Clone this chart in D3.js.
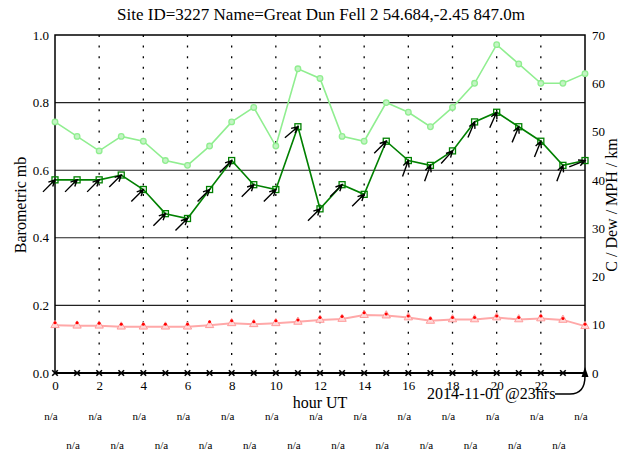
<!DOCTYPE html>
<html>
<head>
<meta charset="utf-8">
<script src="https://cdn.jsdelivr.net/npm/d3@7/dist/d3.min.js"></script>
<style>
  html, body { margin: 0; padding: 0; background: #fff; }
  svg { display: block; }
  svg text { font-family: "Liberation Serif", "Times New Roman", Times, serif; }
</style>
</head>
<body>
<svg id="chart" width="625" height="454"></svg>
<script>
// Hourly observations, hour 0 to 24
const hours = [0,1,2,3,4,5,6,7,8,9,10,11,12,13,14,15,16,17,18,19,20,21,22,23,24];
const visibilityKm = [52,49,46,49,48,44,43,47,52,55,47,63,61,49,48,56,54,51,55,60,68,64,60,60,62];
const windMph = [40,40,40,41,38,33,32,38,44,39,38,51,34,39,37,48,44,43,46,52,54,51,48,43,44];
const windFromDeg = [225,225,225,225,225,225,225,225,225,225,225,230,225,225,225,225,200,200,222,203,204,203,202,201,248];
const tempC = [9.9,9.8,9.8,9.6,9.6,9.6,9.6,9.9,10.3,10.1,10.3,10.6,11.0,11.2,12.0,11.9,11.5,10.8,11.1,11.1,11.5,11.1,11.3,11.0,9.7];
const dewC = [10.4,10.4,10.3,10.1,10.1,10.1,10.1,10.6,10.8,10.6,10.8,11.0,11.5,11.7,12.5,12.2,11.8,11.3,11.5,11.5,11.8,11.5,11.8,11.3,10.1];
const rainMm = [0,0,0,0,0,0,0,0,0,0,0,0,0,0,0,0,0,0,0,0,0,0,0,0,0];
const rowTopText = ["n/a","n/a","n/a","n/a","n/a","n/a","n/a","n/a","n/a","n/a","n/a","n/a","n/a"];
const rowBottomText = ["n/a","n/a","n/a","n/a","n/a","n/a","n/a","n/a","n/a","n/a","n/a","n/a"];
const xTicks = [0,2,4,6,8,10,12,14,16,18,20,22];
const leftTicks = [0,0.2,0.4,0.6,0.8,1.0];
const rightTicks = [0,10,20,30,40,50,60,70];
const gridLeft = [0.2,0.4,0.6,0.8];
const gridHours = [2,4,6,8,10,12,14,16,18,20,22];
const titleText = "Site ID=3227 Name=Great Dun Fell 2 54.684,-2.45 847.0m";
const stampText = "2014-11-01 @23hrs";

const FONT = "Liberation Serif, Times New Roman, Times, serif";
const svg = d3.select("#chart").attr("font-family", FONT);
const L = 55, R = 585, T = 35, B = 373;

const x = d3.scaleLinear().domain([0, 24]).range([L, R]);
const yL = d3.scaleLinear().domain([0, 1]).range([B, T]);
const yR = d3.scaleLinear().domain([0, 70]).range([B, T]);

// title
svg.append("text").attr("x", 321).attr("y", 20).attr("text-anchor", "middle")
  .attr("font-family", FONT).attr("font-size", 17).text(titleText);

// grid
svg.append("g").selectAll("line").data(gridLeft).join("line")
  .attr("x1", L).attr("x2", R).attr("y1", d => yL(d)).attr("y2", d => yL(d))
  .attr("stroke", "#222").attr("stroke-width", 1.1);
svg.append("g").selectAll("line").data(gridHours).join("line")
  .attr("x1", d => x(d)).attr("x2", d => x(d)).attr("y1", T).attr("y2", B)
  .attr("stroke", "#000").attr("stroke-width", 1.3).attr("stroke-dasharray", "2,8.6");

// frame
svg.append("rect").attr("x", L).attr("y", T).attr("width", R - L).attr("height", B - T)
  .attr("fill", "none").attr("stroke", "#000").attr("stroke-width", 1.5);

// axes
function styleAxis(g) {
  g.attr("font-family", FONT).attr("font-size", 13);
  g.select(".domain").remove();
  g.selectAll("text").attr("font-family", FONT).attr("font-size", 13).attr("fill", "#000");
}
svg.append("g").attr("transform", `translate(0,${B})`)
  .call(d3.axisBottom(x).tickValues(xTicks).tickSize(0).tickPadding(8).tickFormat(d3.format("d")))
  .call(styleAxis);
svg.append("g").attr("transform", `translate(${L},0)`)
  .call(d3.axisLeft(yL).tickValues(leftTicks).tickSize(0).tickPadding(6).tickFormat(d3.format(".1f")))
  .call(styleAxis);
svg.append("g").attr("transform", `translate(${R},0)`)
  .call(d3.axisRight(yR).tickValues(rightTicks).tickSize(0).tickPadding(7).tickFormat(d3.format("d")))
  .call(styleAxis);

// axis titles
svg.append("text").attr("x", 320).attr("y", 408).attr("text-anchor", "middle")
  .attr("font-family", FONT).attr("font-size", 16).text("hour UT");
svg.append("text").attr("transform", "translate(26,205) rotate(-90)").attr("text-anchor", "middle")
  .attr("font-family", FONT).attr("font-size", 16).text("Barometric mb");
svg.append("text").attr("transform", "translate(617,205) rotate(-90)").attr("text-anchor", "middle")
  .attr("font-family", FONT).attr("font-size", 16).text("C / Dew / MPH / km");

// visibility (km)
const visData = hours.map((h, i) => [h, visibilityKm[i]]);
svg.append("path").datum(visData)
  .attr("d", d3.line().x(d => x(d[0])).y(d => yR(d[1])))
  .attr("fill", "none").attr("stroke", "#90ee90").attr("stroke-width", 1.6);
svg.append("g").selectAll("circle").data(visData).join("circle")
  .attr("cx", d => x(d[0])).attr("cy", d => yR(d[1])).attr("r", 2.8)
  .attr("fill", "#c4f4c4").attr("stroke", "#90ee90").attr("stroke-width", 1.3);

// wind speed (mph)
const windData = hours.map((h, i) => [h, windMph[i], windFromDeg[i]]);
svg.append("path").datum(windData)
  .attr("d", d3.line().x(d => x(d[0])).y(d => yR(d[1])))
  .attr("fill", "none").attr("stroke", "#008000").attr("stroke-width", 1.6);
svg.append("g").selectAll("rect").data(windData).join("rect")
  .attr("x", d => x(d[0]) - 3).attr("y", d => yR(d[1]) - 3).attr("width", 6).attr("height", 6)
  .attr("fill", "none").attr("stroke", "#008000").attr("stroke-width", 1.3);

// wind direction arrows ending at each speed point
const arrowLen = 17, headLen = 7, headAng = 26 * Math.PI / 180;
const arrows = svg.append("g").attr("stroke", "#000").attr("stroke-width", 1.4).attr("fill", "none");
windData.forEach(d => {
  const tx = x(d[0]), ty = yR(d[1]);
  const b = ((d[2] + 180) % 360) * Math.PI / 180;
  const ux = Math.sin(b), uy = -Math.cos(b);
  const sx = tx - arrowLen * ux, sy = ty - arrowLen * uy;
  const a = Math.atan2(uy, ux);
  const h1x = tx - headLen * Math.cos(a - headAng), h1y = ty - headLen * Math.sin(a - headAng);
  const h2x = tx - headLen * Math.cos(a + headAng), h2y = ty - headLen * Math.sin(a + headAng);
  arrows.append("path").attr("d", `M${sx},${sy}L${tx},${ty}M${h1x},${h1y}L${tx},${ty}L${h2x},${h2y}`);
});

// temperature and dew point (C)
const tData = hours.map((h, i) => [h, tempC[i]]);
svg.append("path").datum(tData)
  .attr("d", d3.line().x(d => x(d[0])).y(d => yR(d[1])))
  .attr("fill", "none").attr("stroke", "#ffa8a8").attr("stroke-width", 2);
const tri = d3.symbol().type(d3.symbolTriangle).size(30);
svg.append("g").selectAll("path").data(tData).join("path")
  .attr("transform", d => `translate(${x(d[0])},${yR(d[1])})`).attr("d", tri)
  .attr("fill", "#ffd8d8").attr("stroke", "#ff9a9a").attr("stroke-width", 1);
const dData = hours.map((h, i) => [h, dewC[i]]);
svg.append("g").selectAll("circle").data(dData).join("circle")
  .attr("cx", d => x(d[0])).attr("cy", d => yR(d[1])).attr("r", 1.5).attr("fill", "#ff0000");

// rainfall (left scale)
const rData = hours.map((h, i) => [h, rainMm[i]]);
svg.append("path").datum(rData)
  .attr("d", d3.line().x(d => x(d[0])).y(d => yL(d[1])))
  .attr("fill", "none").attr("stroke", "#000").attr("stroke-width", 2.2);
const cross = d3.symbol().type(d3.symbolX).size(22);
svg.append("g").selectAll("path").data(rData.slice(0, 24)).join("path")
  .attr("transform", d => `translate(${x(d[0])},${yL(d[1])})`).attr("d", cross)
  .attr("fill", "none").attr("stroke", "#000").attr("stroke-width", 1.6);

// time stamp with pointer to the last hour
svg.append("text").attr("x", 427).attr("y", 399).attr("font-family", FONT).attr("font-size", 16).text(stampText);
const px = x(24), py = yL(0);
svg.append("path").attr("d", `M555,394L570,394Q${px},394 ${px},${py + 3}`)
  .attr("fill", "none").attr("stroke", "#000").attr("stroke-width", 1.5);
svg.append("path").attr("d", `M${px},${py - 6}L${px - 3.5},${py + 4}L${px + 3.5},${py + 4}Z`).attr("fill", "#000");

// status rows under the axis
svg.append("g").selectAll("text").data(rowTopText).join("text")
  .attr("x", (d, i) => x(i * 2) - 4).attr("y", 420).attr("text-anchor", "middle")
  .attr("font-family", FONT).attr("font-size", 11).text(d => d);
svg.append("g").selectAll("text").data(rowBottomText).join("text")
  .attr("x", (d, i) => x(i * 2 + 1) - 4).attr("y", 449).attr("text-anchor", "middle")
  .attr("font-family", FONT).attr("font-size", 11).text(d => d);
</script>
</body>
</html>
